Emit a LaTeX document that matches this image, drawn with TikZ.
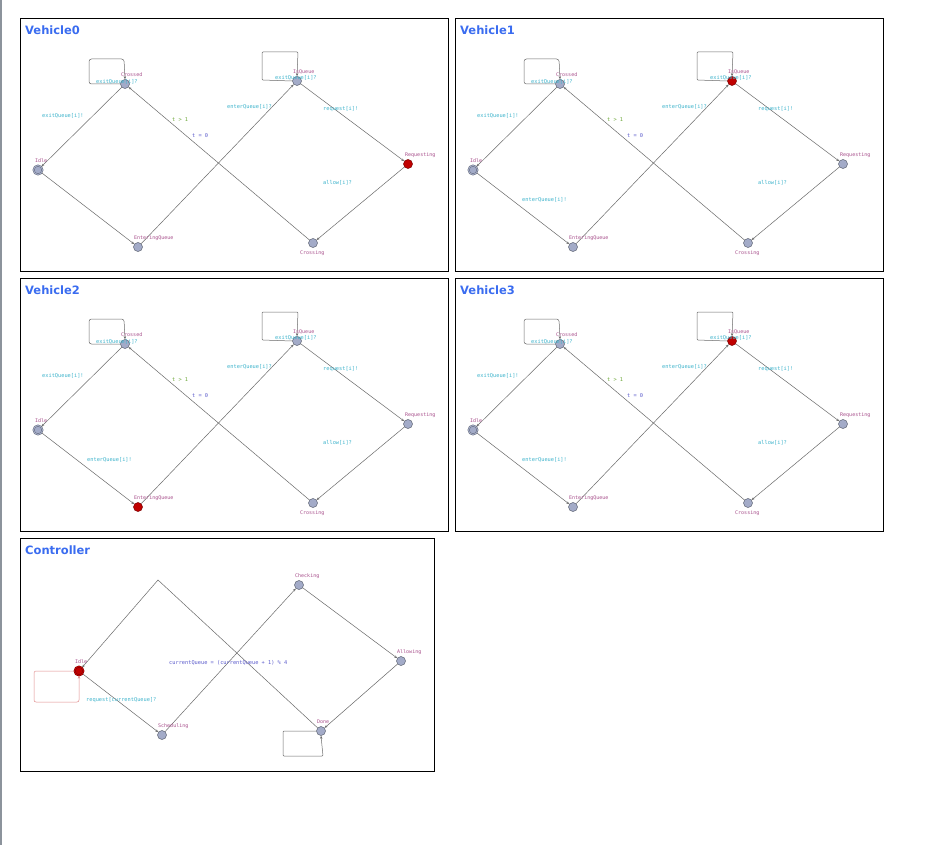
\documentclass[tikz,border=0pt]{standalone}
\usepackage{fontspec}
\usetikzlibrary{arrows.meta}
\newfontfamily\titlefont{DejaVu Sans}
\newfontfamily\labelfont{DejaVu Sans Mono}
\definecolor{locfill}{HTML}{A3ABC8}
\definecolor{locline}{HTML}{5E6472}
\definecolor{hotred}{HTML}{C00000}
\definecolor{hotline}{HTML}{7A0000}
\definecolor{edgecol}{HTML}{6A6A6A}
\definecolor{loopred}{HTML}{E08C8C}
\definecolor{namecol}{HTML}{A8508C}
\definecolor{synccol}{HTML}{3FB4CC}
\definecolor{guardcol}{HTML}{6EA83A}
\definecolor{assigncol}{HTML}{5C5CCC}
\definecolor{titleblue}{HTML}{3A6CF0}
\definecolor{sidebar}{HTML}{8C939C}

\tikzset{
  loc/.style={circle, draw=locline, fill=locfill, line width=0.5pt, minimum size=9pt, inner sep=0pt},
  init/.style={double=locfill, double distance=0.9pt, line width=0.45pt},
  hot/.style={fill=hotred, draw=hotline},
  edge/.style={draw=edgecol, line width=0.5pt, -{Stealth[length=3pt,width=2.4pt]}},
  lab/.style={inner sep=0pt, anchor=west, font=\labelfont\fontsize{5.3}{6}\selectfont},
  lname/.style={lab, text=namecol, font=\labelfont\fontsize{5}{6}\selectfont},
  sync/.style={lab, text=synccol},
  guard/.style={lab, text=guardcol},
  assign/.style={lab, text=assigncol},
  panel/.style={draw=black, line width=0.8pt},
  title/.style={font=\titlefont\bfseries\fontsize{11.5}{13}\selectfont, text=titleblue, anchor=west, inner sep=0pt},
  n-idle/.style={}, n-cro/.style={}, n-ent/.style={}, n-isq/.style={}, n-req/.style={}, n-crg/.style={},
}

\begin{document}
\begin{tikzpicture}[x=1pt, y=-1pt]
\useasboundingbox[fill=white] (0,0) rectangle (944,845);
\fill[sidebar] (0,0) rectangle (1.5,845);

% the four vehicle templates
\foreach \i/\dx/\dy/\hot/\lbl in {0/20/18/req/0, 1/455/18/isq/1, 2/20/278/ent/1, 3/455/278/isq/1}{
\begin{scope}[shift={(\dx,\dy)}, n-\hot/.style={hot}]
  \draw[panel] (0,0) rectangle (428,253);
  \node[title] (v\i-title) at (5,12) {Vehicle\i};

  \node[loc, init, n-idle] (v\i-idle) at (18,152) {};
  \node[loc, n-cro] (v\i-cro) at (105,66) {};
  \node[loc, n-ent] (v\i-ent) at (118,229) {};
  \node[loc, n-isq] (v\i-isq) at (277,63) {};
  \node[loc, n-req] (v\i-req) at (388,146) {};
  \node[loc, n-crg] (v\i-crg) at (293,225) {};

  \draw[edge] (v\i-cro) -- (v\i-idle);
  \draw[edge] (v\i-idle) -- (v\i-ent);
  \draw[edge] (v\i-ent) -- (v\i-isq);
  \draw[edge] (v\i-isq) -- (v\i-req);
  \draw[edge] (v\i-req) -- (v\i-crg);
  \draw[edge] (v\i-crg) -- (v\i-cro);
  \draw[edge, rounded corners=2.5pt] (v\i-cro.west) -- (69,66) -- (69,41) -- (104,41) -- (v\i-cro.north);
  \draw[edge, rounded corners=1pt] (v\i-isq.west) -- (242,62) -- (242,34) -- (278,34) -- (v\i-isq.north);

  \node[lname] (v\i-idle-n) at (15,143) {Idle};
  \node[lname] (v\i-cro-n) at (101,57) {Crossed};
  \node[lname] (v\i-ent-n) at (114,220) {EnteringQueue};
  \node[lname] (v\i-isq-n) at (273,54) {IsQueue};
  \node[lname] (v\i-req-n) at (385,137) {Requesting};
  \node[lname] (v\i-crg-n) at (280,235) {Crossing};

  \node[sync] (v\i-s1) at (22,98) {exitQueue[i]!};
  \ifnum\lbl=1 \node[sync] (v\i-s2) at (67,182) {enterQueue[i]!}; \fi
  \node[sync] (v\i-s3) at (207,89) {enterQueue[i]?};
  \node[sync] (v\i-s4) at (255,60) {exitQueue[i]?};
  \node[sync] (v\i-s5) at (76,64) {exitQueue[i]?};
  \node[sync] (v\i-s6) at (303,91) {request[i]!};
  \node[sync] (v\i-s7) at (303,165) {allow[i]?};
  \node[guard] (v\i-g1) at (152,102) {t > 1};
  \node[assign] (v\i-a1) at (172,118) {t = 0};
\end{scope}
}

% the controller template
\begin{scope}[shift={(20,538)}]
  \draw[panel] (0,0) rectangle (414,233);
  \node[title] (c-title) at (5,12) {Controller};

  \node[loc, init, hot, double=hotred] (c-idle) at (59,133) {};
  \node[loc] (c-sch) at (142,197) {};
  \node[loc] (c-chk) at (279,47) {};
  \node[loc] (c-alw) at (381,123) {};
  \node[loc] (c-done) at (301,193) {};
  \coordinate (c-nail) at (138,42);

  \draw[edge] (c-idle) -- (c-sch);
  \draw[edge] (c-sch) -- (c-chk);
  \draw[edge] (c-chk) -- (c-alw);
  \draw[edge] (c-alw) -- (c-done);
  \draw[edge] (c-done) -- (c-nail) -- (c-idle);
  \draw[edge, draw=loopred, rounded corners=2pt] (c-idle.west) -- (14,133) -- (14,164) -- (59,164) -- (c-idle.south);
  \draw[edge, rounded corners=1pt] (c-done.west) -- (263,193) -- (263,218) -- (303,218) -- (c-done.south);

  \node[lname] (c-idle-n) at (55,124) {Idle};
  \node[lname] (c-sch-n) at (138,188) {Scheduling};
  \node[lname] (c-chk-n) at (275,38) {Checking};
  \node[lname] (c-alw-n) at (377,114) {Allowing};
  \node[lname] (c-done-n) at (297,184) {Done};

  \node[sync] (c-s1) at (66,162) {request[currentQueue]?};
  \node[assign] (c-a1) at (149,125) {currentQueue = (currentQueue + 1) \% 4};
\end{scope}
\end{tikzpicture}
\end{document}
